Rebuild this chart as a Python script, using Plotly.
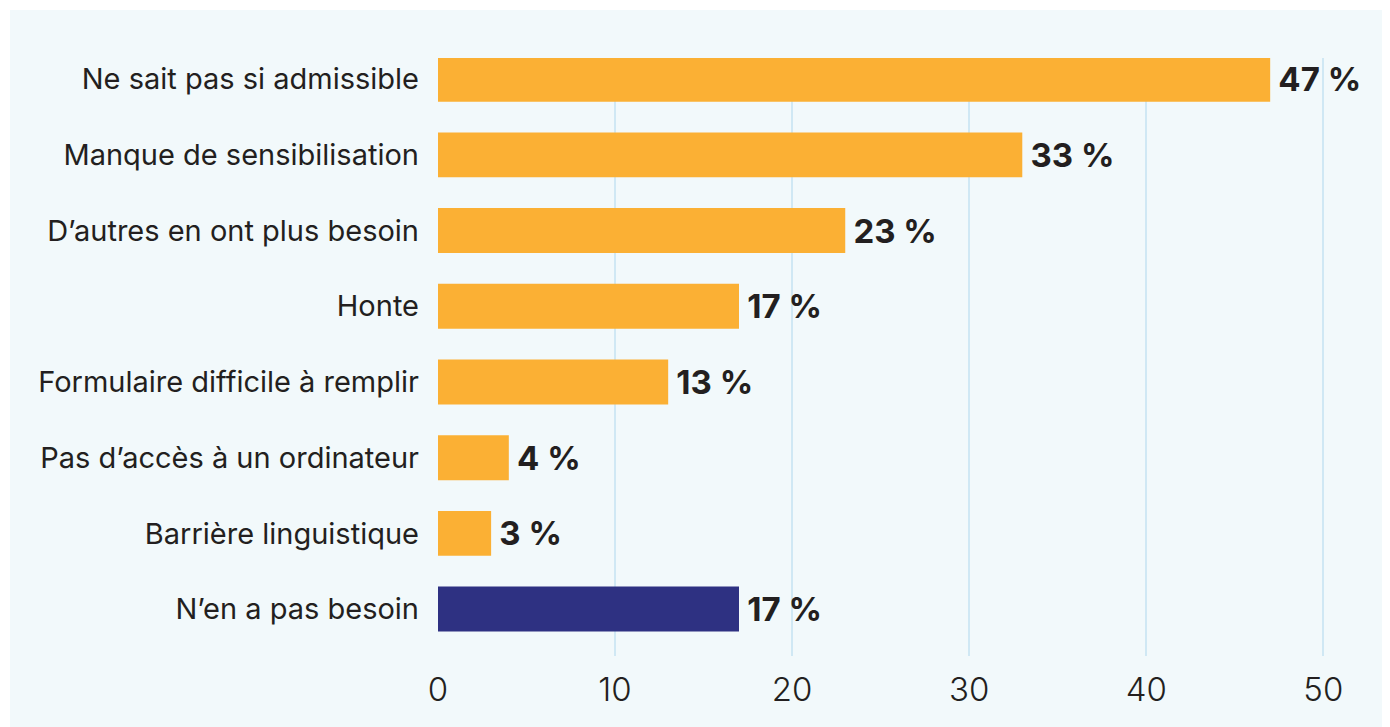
import plotly.graph_objects as go

categories = [
    "Ne sait pas si admissible",
    "Manque de sensibilisation",
    "D\u2019autres en ont plus besoin",
    "Honte",
    "Formulaire difficile \u00e0 remplir",
    "Pas d\u2019acc\u00e8s \u00e0 un ordinateur",
    "Barri\u00e8re linguistique",
    "N\u2019en a pas besoin",
]
values = [47, 33, 23, 17, 13, 4, 3, 17]
tick_values = [0, 10, 20, 30, 40, 50]

ORANGE = "#FBB034"
NAVY = "#2E3182"
colors = [NAVY if c == "N\u2019en a pas besoin" else ORANGE for c in categories]

# page body has an 8px default margin; compensate
OFF = 8
W, H = 1390, 727
L, R, T, B = 438 - OFF, 49 + OFF, 58 - OFF, 71 + OFF
plotW = W - L - R
plotH = H - T - B

fig = go.Figure(
    go.Bar(
        y=categories,
        x=values,
        orientation="h",
        marker=dict(color=colors, line=dict(width=0)),
        texttemplate="\u2009%{x} %",
        textposition="outside",
        textfont=dict(family="Inter", size=33, color="#231F20", weight="bold"),
        cliponaxis=False,
        constraintext="none",
        width=0.594,
        hoverinfo="skip",
    )
)

# light panel with white border on top/left (panel starts 10px in)
fig.add_shape(
    type="rect", xref="paper", yref="paper", layer="below",
    x0=(10 - OFF - L) / plotW, x1=(W + 20 - L) / plotW,
    y0=(T + plotH - (H + 20)) / plotH, y1=(T + plotH - (10 - OFF)) / plotH,
    fillcolor="#F2F9FB", line=dict(width=0),
)

fig.update_layout(
    width=W, height=H,
    margin=dict(l=L, r=R, t=T, b=B, pad=0),
    paper_bgcolor="white",
    plot_bgcolor="rgba(0,0,0,0)",
    showlegend=False,
    font=dict(family="Inter", color="#231F20"),
    xaxis=dict(
        range=[0, 51],
        tickvals=tick_values,
        showgrid=True, gridcolor="#D0E8F4", gridwidth=2,
        zeroline=False, showline=False,
        ticks="", ticklabelstandoff=11,
        tickfont=dict(family="Inter", size=33, color="#231F20", weight=300),
    ),
    yaxis=dict(
        type="category",
        categoryorder="array", categoryarray=categories,
        range=[7.62, -0.28],
        showgrid=False, zeroline=False, showline=False,
        ticks="", ticklabelstandoff=18,
        tickfont=dict(family="Inter", size=29, color="#231F20"),
    ),
)

fig.write_html("out.html")
